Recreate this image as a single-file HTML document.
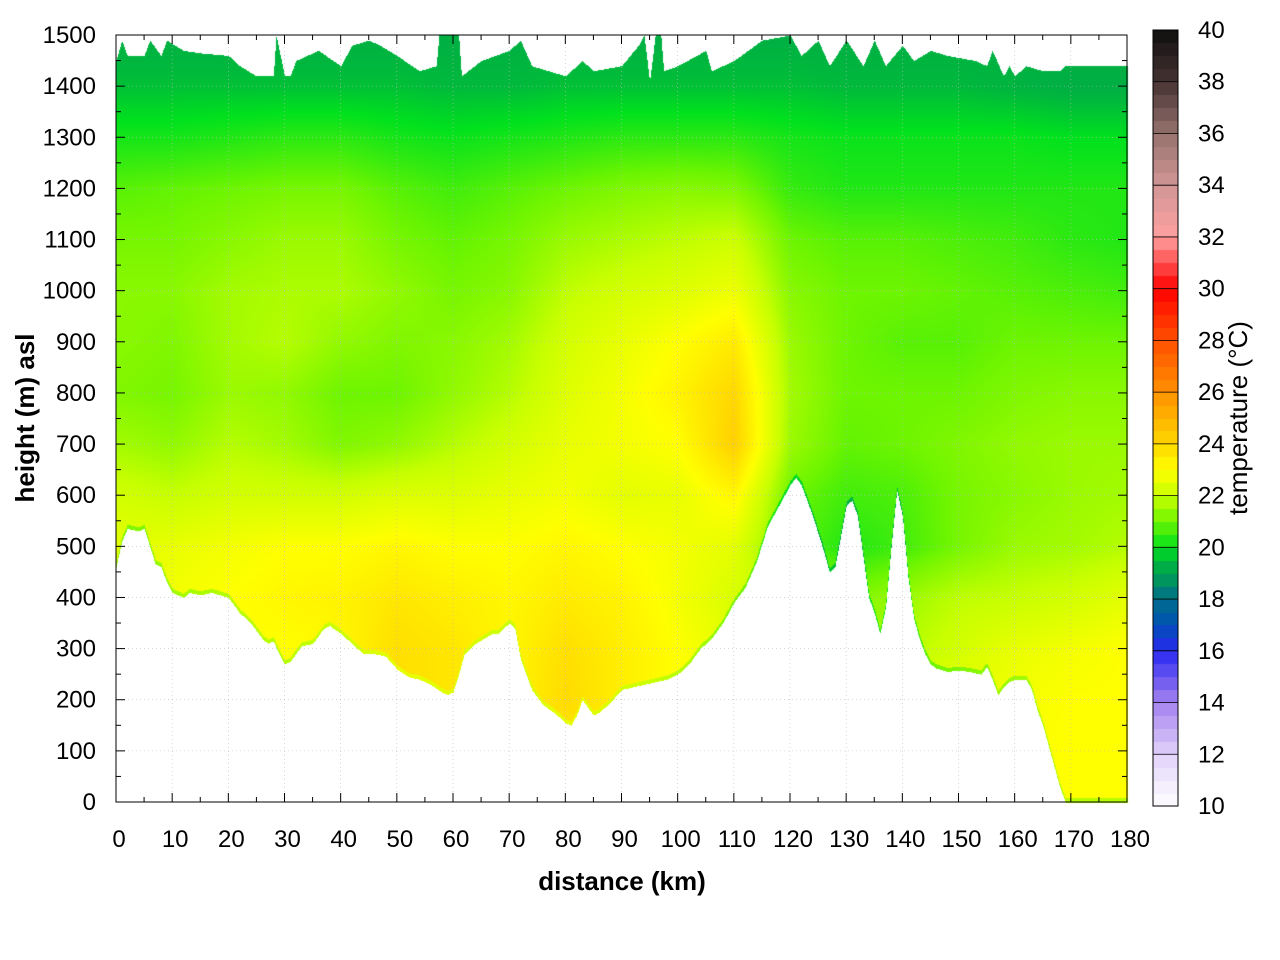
<!DOCTYPE html>
<html><head><meta charset="utf-8"><style>
body{margin:0;background:#fff;}
#wrap{position:relative;width:1280px;height:960px;font-family:"Liberation Sans",sans-serif;}
canvas,svg{position:absolute;left:0;top:0;}
</style></head><body>
<div id="wrap">
<canvas id="cv" width="1280" height="960"></canvas>
<svg id="sv" width="1280" height="960"></svg>
</div>
<script>
// ---- data ----
const distCols=[0,10,20,30,40,50,60,70,80,90,100,110,120,130,140,150,160,170,180];
const heightRows=[0,100,200,300,400,500,600,700,800,900,1000,1100,1200,1300,1400,1500];
const temps=[
[23,23,23,23,23,23.5,23.5,23.2,23.6,23.2,23,23,23,23,23,23,23,23,23],
[23,23,23,23,23,23.5,23.5,23.2,23.6,23.2,23,23,23,23,23,23,23,23,23],
[22.8,22.9,23,23,23.2,23.8,23.6,23.2,23.9,23.4,23,22.6,22.2,22,22.5,22.6,22.8,23,23],
[22.6,22.8,23,23,23.2,23.8,23.6,23.2,23.8,23.4,23,22.5,22,21.5,21.8,22.2,22.6,22.8,23],
[22.6,22.8,23,23.2,23.3,23.6,23.4,23.2,23.5,23.3,22.8,22.3,22,21.2,21.5,21.9,22,22.2,22.5],
[22.5,22.6,22.8,23,23,23.2,23,23,23.2,23,22.8,22.5,20.9,20.3,20.6,21.1,21.5,21.6,21.8],
[22.2,22,22.2,22.2,22.2,22.4,22.4,22.6,22.8,22.5,22.6,23.2,21,20.6,20.7,21.1,21.3,21.5,21.6],
[21.6,21.4,21.8,21.6,21.2,21.4,21.8,22.2,22.6,22.8,23,24.2,21.5,20.9,21,21.2,21.4,21.5,21.5],
[21.2,21.1,21.5,21.4,21,21,21.4,21.8,22.4,22.8,23.3,24,21.6,21,21,21,21.2,21.3,21.3],
[21.3,21.2,21.6,21.8,21.4,21.2,21.3,21.6,22.2,22.6,23,23.5,21.5,21,20.8,20.8,21,21,21],
[21.3,21.3,21.6,21.7,21.7,21.4,21.1,21.3,21.9,22.2,22.4,22.7,21.3,21,21,20.9,20.8,20.7,20.6],
[21.1,21.1,21.3,21.5,21.5,21.1,20.9,21.1,21.5,21.7,21.9,22.1,21,20.8,20.8,20.7,20.6,20.4,20.3],
[20.8,20.9,21,21.1,21.1,20.8,20.6,20.8,21,21.2,21.3,21.2,20.5,20.3,20.3,20.3,20.3,20.3,20.3],
[20.2,20.2,20.3,20.4,20.4,20.2,20.1,20.2,20.3,20.4,20.4,20.4,20.2,20.1,20.1,20.1,20.1,20,20],
[19.6,19.6,19.6,19.6,19.6,19.6,19.5,19.5,19.6,19.6,19.6,19.6,19.6,19.5,19.5,19.5,19.4,19.3,19.3],
[19.3,19.3,19.3,19.3,19.3,19.3,19.3,19.3,19.3,19.3,19.3,19.3,19.3,19.3,19.3,19.3,19.3,19.3,19.3]];
const groundDist=[0,1,2,4,5,6,7,8,9,10,11,12,13,15,17,20,22,24,26,27,28,29,30,31,33,35,37,38,40,42,44,46,48,50,52,54,56,58,59,60,61,62,64,67,68,70,71,72,74,76,78,80,81,82,83,84,85,86,88,90,94,98,100,102,104,106,108,110,112,114,116,118,120,121,122,124,126,127,128,129,130,131,132,133,134,135,136,137,138,139,140,141,142,143,144,145,146,148,150,152,154,155,156,157,158,159,160,162,163,164,165,166,167,168,169,180];
const groundH=[460,510,535,530,535,500,465,460,430,410,405,400,410,405,410,400,370,350,320,310,315,290,270,275,305,310,340,345,330,310,290,290,285,260,245,240,230,215,210,215,250,290,310,330,330,350,340,280,220,190,175,155,150,170,200,185,170,175,195,220,230,240,250,270,300,320,350,390,420,470,540,580,620,635,620,560,490,450,460,520,580,590,560,480,400,370,330,380,500,610,560,440,360,320,290,270,262,255,258,255,250,265,240,210,225,235,240,240,220,180,150,110,70,30,0,0];
const topDist=[0,1,2,5,6,8,9,12,15,20,22,25,28,28.5,30,31,32,36,40,42,45,47,50,54,57,57.5,61,61.5,65,70,72,74,77,80,83,85,90,93,94,95,96,97,97.5,100,105,106,110,115,120,122,125,127,130,133,135,137,140,142,145,148,153,155,156,158,159,160,162,165,168,169,180];
const topH=[1450,1490,1460,1460,1490,1460,1490,1470,1465,1460,1440,1420,1420,1500,1420,1420,1450,1470,1440,1480,1490,1480,1460,1430,1440,1500,1500,1420,1450,1470,1490,1440,1430,1420,1450,1430,1440,1480,1500,1410,1500,1500,1430,1440,1470,1430,1450,1490,1500,1460,1490,1440,1490,1440,1490,1440,1480,1450,1470,1460,1450,1440,1470,1420,1440,1420,1440,1430,1430,1440,1440];
const xTicks=[0,10,20,30,40,50,60,70,80,90,100,110,120,130,140,150,160,170,180];
const yTicks=[0,100,200,300,400,500,600,700,800,900,1000,1100,1200,1300,1400,1500];
const cbTicks=[10,12,14,16,18,20,22,24,26,28,30,32,34,36,38,40];
// ---- scales ----
const X0=116,X1=1127,Y0=802,Y1=35;
const xs=d=>X0+(d/180)*(X1-X0);
const ys=h=>Y0-(h/1500)*(Y0-Y1);
const CB={x:1153,w:25,y0:806,y1:30};
const cbs=t=>CB.y0-(t-10)/30*(CB.y0-CB.y1);
const stops=[[10,[255,255,255]],[12,[225,210,250]],[14,[165,130,240]],[16,[40,40,240]],[17,[0,80,180]],[18,[0,110,140]],[19,[0,160,80]],[19.5,[0,185,60]],[20,[0,225,30]],[21,[110,245,0]],[22,[200,255,0]],[23,[255,255,0]],[24,[255,215,0]],[26,[255,145,0]],[28,[255,80,0]],[30,[255,0,0]],[32,[255,160,160]],[34,[210,150,150]],[36,[150,115,110]],[38,[70,50,50]],[40,[15,15,15]]];
function col(t){if(t<=10)return stops[0][1];for(let i=1;i<stops.length;i++){if(t<=stops[i][0]){const a=stops[i-1],b=stops[i];const f=(t-a[0])/(b[0]-a[0]);return a[1].map((v,k)=>v+(b[1][k]-v)*f);}}return stops[stops.length-1][1];}
function lerp(xa,ya,x){for(let i=1;i<xa.length;i++){if(x<=xa[i]){const f=(x-xa[i-1])/(xa[i]-xa[i-1]);return ya[i-1]+(ya[i]-ya[i-1])*f;}}return ya[ya.length-1];}
function tempAt(d,h){let ci=Math.min(Math.floor(d/10),17),ri=Math.min(Math.floor(h/100),14);const fx=(d-distCols[ci])/10,fy=(h-heightRows[ri])/100;
const a=temps[ri][ci],b=temps[ri][ci+1],c=temps[ri+1][ci],e=temps[ri+1][ci+1];return (a*(1-fx)+b*fx)*(1-fy)+(c*(1-fx)+e*fx)*fy;}
// ---- heatmap ----
const cv=document.getElementById('cv'),ctx=cv.getContext('2d');
const img=ctx.createImageData(1280,960);
for(let px=X0;px<=X1;px++){const d=(px-X0)/(X1-X0)*180;const g=lerp(groundDist,groundH,d),tp=lerp(topDist,topH,d);
for(let py=Y1;py<=Y0;py++){const h=(Y0-py)/(Y0-Y1)*1500;if(h<g||h>tp)continue;let t=tempAt(d,h);if(h-g<8)t-=1.2;const c=col(t);const o=(py*1280+px)*4;img.data[o]=c[0];img.data[o+1]=c[1];img.data[o+2]=c[2];img.data[o+3]=255;}}
for(let py=CB.y1;py<=CB.y0;py++){const t=10+(CB.y0-py)/(CB.y0-CB.y1)*30;const tq=Math.floor(t*2)/2+0.25;const c=col(tq);for(let px=CB.x;px<CB.x+CB.w;px++){const o=(py*1280+px)*4;img.data[o]=c[0];img.data[o+1]=c[1];img.data[o+2]=c[2];img.data[o+3]=255;}}
ctx.putImageData(img,0,0);
// ---- axes ----
const sv=document.getElementById('sv');const NS='http://www.w3.org/2000/svg';
function mk(tag,attrs,parent){const e=document.createElementNS(NS,tag);for(const k in attrs)e.setAttribute(k,attrs[k]);(parent||sv).appendChild(e);return e;}
xTicks.forEach(v=>{const x=xs(v);
const gl=mk('line',{x1:x,x2:x,y1:Y1,y2:Y0,stroke:'#bbb','stroke-width':0.6,'stroke-dasharray':'1,3'});


mk('line',{x1:x,x2:x,y1:Y0,y2:Y0-9,stroke:'#000'});mk('line',{x1:x,x2:x,y1:Y1,y2:Y1+9,stroke:'#000'});
const hx=xs(v+5);if(v<180){mk('line',{x1:hx,x2:hx,y1:Y0,y2:Y0-5,stroke:'#000'});mk('line',{x1:hx,x2:hx,y1:Y1,y2:Y1+5,stroke:'#000'});}
const t=mk('text',{x:x+3,y:847,'text-anchor':'middle','font-size':24,fill:'#000'});t.textContent=v;

});
yTicks.forEach(v=>{const y=ys(v);
const gl=mk('line',{x1:X0,x2:X1,y1:y,y2:y,stroke:'#bbb','stroke-width':0.6,'stroke-dasharray':'1,3'});


mk('line',{x1:X0,x2:X0+9,y1:y,y2:y,stroke:'#000'});mk('line',{x1:X1,x2:X1-9,y1:y,y2:y,stroke:'#000'});
const hy=ys(v+50);if(v<1500){mk('line',{x1:X0,x2:X0+5,y1:hy,y2:hy,stroke:'#000'});mk('line',{x1:X1,x2:X1-5,y1:hy,y2:hy,stroke:'#000'});}
const t=mk('text',{x:96,y:y+8,'text-anchor':'end','font-size':24,fill:'#000'});t.textContent=v;

});
const fr=mk('rect',{x:X0,y:Y1,width:X1-X0,height:Y0-Y1,fill:'none',stroke:'#000','stroke-width':1});


const cbf=mk('rect',{x:CB.x,y:CB.y1,width:CB.w,height:CB.y0-CB.y1,fill:'none',stroke:'#000','stroke-width':1});


cbTicks.forEach(v=>{const y=cbs(v);mk('line',{x1:CB.x,x2:CB.x+CB.w,y1:y,y2:y,stroke:'#000','stroke-width':0.8});
const t=mk('text',{x:1198,y:y+8,'font-size':24,fill:'#000'});t.textContent=v;

});
const xt=mk('text',{x:622,y:890,'text-anchor':'middle','font-size':26,'font-weight':'bold'});xt.textContent='distance (km)';


const yt=mk('text',{x:0,y:0,'text-anchor':'middle','font-size':26,'font-weight':'bold',transform:'translate(34,418) rotate(-90)'});yt.textContent='height (m) asl';


const ct=mk('text',{x:0,y:0,'text-anchor':'middle','font-size':26,transform:'translate(1247,418) rotate(-90)'});ct.textContent='temperature (°C)';


</script>
</body></html>
